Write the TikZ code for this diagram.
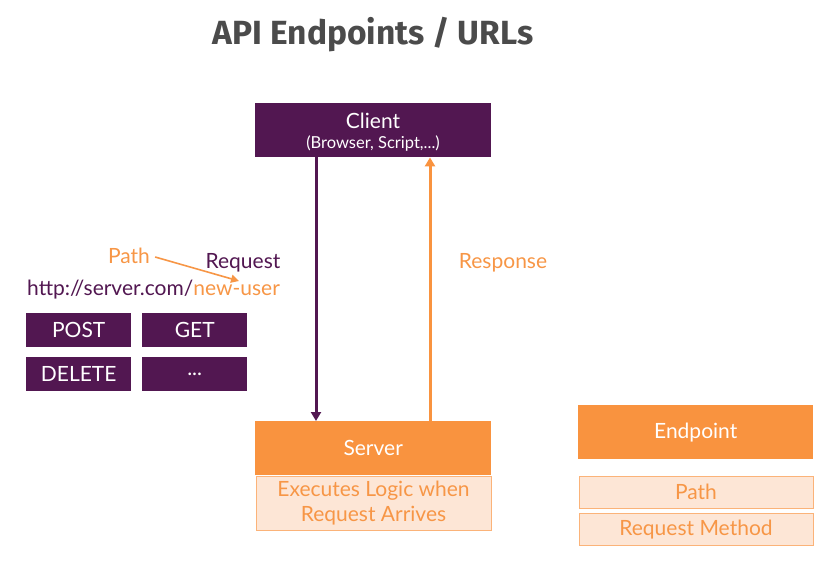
\documentclass[tikz,border=0pt]{standalone}
\usepackage{fontspec}
\setmainfont{Lato}
\newfontfamily\titlefont{Fira Sans}
\usetikzlibrary{arrows.meta,positioning}
\definecolor{purp}{HTML}{521751}
\definecolor{orng}{HTML}{F9933F}
\definecolor{ltor}{HTML}{FDE6D6}
\definecolor{otext}{HTML}{F79646}
\definecolor{tgray}{HTML}{4B4B4B}
\tikzset{
  purplebox/.style={draw=none,fill=purp,text=white,inner sep=0pt,anchor=north west},
  orangebox/.style={draw=none,fill=orng,text=white,inner sep=0pt,anchor=north west},
  lightbox/.style={draw=orng!70,line width=1pt,fill=ltor,text=otext,inner sep=0pt,anchor=north west,align=center},
  lbl/.style={inner sep=0pt,font=\fontsize{21}{24}\selectfont},
  bigf/.style={font=\fontsize{21}{24}\selectfont},
  arr/.style={line width=3pt,-{Triangle[length=9pt,width=10pt]}},
}
\begin{document}
\begin{tikzpicture}[x=1pt,y=-1pt]
\useasboundingbox (0,0) rectangle (833,580);
\node[inner sep=0pt,text=tgray,font=\titlefont\bfseries\fontsize{33.5}{38}\selectfont] (title) at (373,35) {API Endpoints / URLs};
% client
\node[purplebox,minimum width=236pt,minimum height=54pt] (client) at (255,103) {};
\node[lbl,text=white] (clientt) at (373,121) {Client};
\node[inner sep=0pt,text=white,font=\fontsize{16.5}{18}\selectfont] (clients) at (373,144) {(Browser, Script,...)};
% server
\node[orangebox,minimum width=236pt,minimum height=54pt,bigf] (server) at (255,421) {Server};
\node[lightbox,minimum width=235pt,minimum height=54pt,font=\fontsize{21}{25}\selectfont] (logic) at (255.5,475.5) {Executes Logic when\\Request Arrives};
% arrows
\draw[arr,purp] (client.south -| 316,0) -- (server.north -| 316,0);
\draw[arr,orng] (server.north -| 430,0) -- (client.south -| 430,0);
\node[lbl,text=otext] (resp) at (503,263) {Response};
% request info
\node[lbl,text=otext] (pathl) at (129,256) {Path};
\node[lbl,text=purp] (req) at (243,263) {Request};
\node[lbl,anchor=west] (url) at (27,290) {\textcolor{purp}{http://server.com/}\textcolor{otext}{new-user}};
\coordinate (pathtip) at (239,281);
\draw[otext,line width=1.6pt,-{Triangle[length=8pt,width=8pt]}] (pathl.east)++(5,1) -- (pathtip);
\node[purplebox,minimum width=105pt,minimum height=34pt,bigf] (post) at (26,313) {POST};
\node[purplebox,minimum width=105pt,minimum height=34pt,bigf] (get) at (142,313) {GET};
\node[purplebox,minimum width=105pt,minimum height=34pt,bigf] (delete) at (26,357) {DELETE};
\node[purplebox,minimum width=105pt,minimum height=34pt,bigf] (more) at (142,357) {...};
% endpoint
\node[orangebox,minimum width=235pt,minimum height=54pt,bigf] (endpoint) at (578,405) {Endpoint};
\node[lightbox,minimum width=234pt,minimum height=32pt,bigf] (path) at (578.5,475.5) {Path};
\node[lightbox,minimum width=234pt,minimum height=32pt,bigf] (method) at (578.5,513) {Request Method};
\end{tikzpicture}
\end{document}
